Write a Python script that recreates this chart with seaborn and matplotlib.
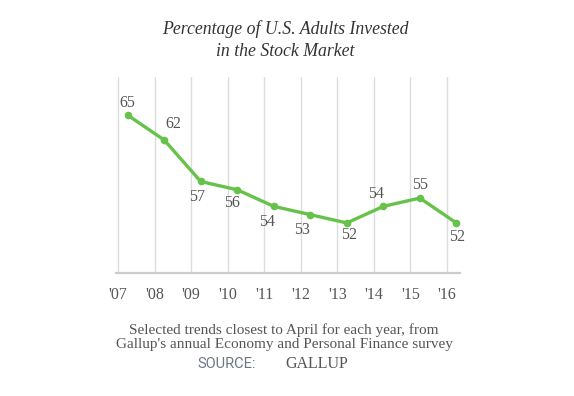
import matplotlib
matplotlib.use("Agg")
import matplotlib.pyplot as plt
import seaborn as sns
import pandas as pd
import numpy as np

years = [2007, 2008, 2009, 2010, 2011, 2012, 2013, 2014, 2015, 2016]
values = [65, 62, 57, 56, 54, 53, 52, 54, 55, 52]
tick_labels = ["'07", "'08", "'09", "'10", "'11", "'12", "'13", "'14", "'15", "'16"]
title = "Percentage of U.S. Adults Invested\nin the Stock Market"
note = "Selected trends closest to April for each year, from\nGallup's annual Economy and Personal Finance survey"

# label offsets in pixels (dx, dy up)
label_offsets = [(0, 12), (9, 16), (-4, -16), (-5, -13), (-7, -16),
                 (-8, -15), (2, -12), (-7, 12), (0, 13), (1, -14)]
month_offset = 0.26  # April position within year

sns.set_theme(style="white")
plt.rcParams['font.family'] = ['Liberation Serif', 'DejaVu Serif']

W, H = 574, 396
fig = plt.figure(figsize=(W / 100, H / 100), dpi=100)
ax = fig.add_axes([116 / W, 1 - 272.7 / H, (460 - 116) / W, (272.7 - 77) / H])

df = pd.DataFrame({"x": np.array(years) + month_offset, "value": values})
sns.lineplot(data=df, x="x", y="value", ax=ax, color="#66c24a", linewidth=2.4,
             marker="o", markersize=5.5, markeredgewidth=0)

for (x, v), (dx, dy) in zip(zip(df["x"], df["value"]), label_offsets):
    ax.annotate(str(v), (x, v), xytext=(dx, dy), textcoords="offset pixels",
                ha="center", va="center", fontsize=11.5, color="#555555")

ax.set_xlim(2006.94, 2016.36)
ax.set_ylim(46, 69.6)
ax.set_xticks(years)
ax.set_xticklabels(tick_labels)
ax.set_yticks([])
ax.set_xlabel("")
ax.set_ylabel("")
ax.grid(axis="x", color="#dcdcdc", linewidth=1)
ax.grid(axis="y", visible=False)
for s in ["top", "left", "right"]:
    ax.spines[s].set_visible(False)
ax.spines["bottom"].set_color("#cccccc")
ax.spines["bottom"].set_linewidth(1.6)
ax.tick_params(axis="x", length=0, pad=10, labelsize=11.5, labelcolor="#555555")

fig.text(285 / W, 1 - 40 / H, title, ha="center", va="center", style="italic",
         fontsize=12.8, color="#333333", linespacing=1.36)
fig.text(284 / W, 1 - 337 / H, note, ha="center", va="center",
         fontsize=11, color="#555555", linespacing=1.12)
fig.text(197 / W, 1 - 364 / H, "SOURCE:", ha="left", va="center",
         family=["Roboto", "DejaVu Sans"], fontsize=10.5, color="#6b7884")
fig.text(285 / W, 1 - 364 / H, "GALLUP", ha="left", va="center",
         fontsize=11.5, color="#555555")

fig.savefig("out.png", dpi=100)
